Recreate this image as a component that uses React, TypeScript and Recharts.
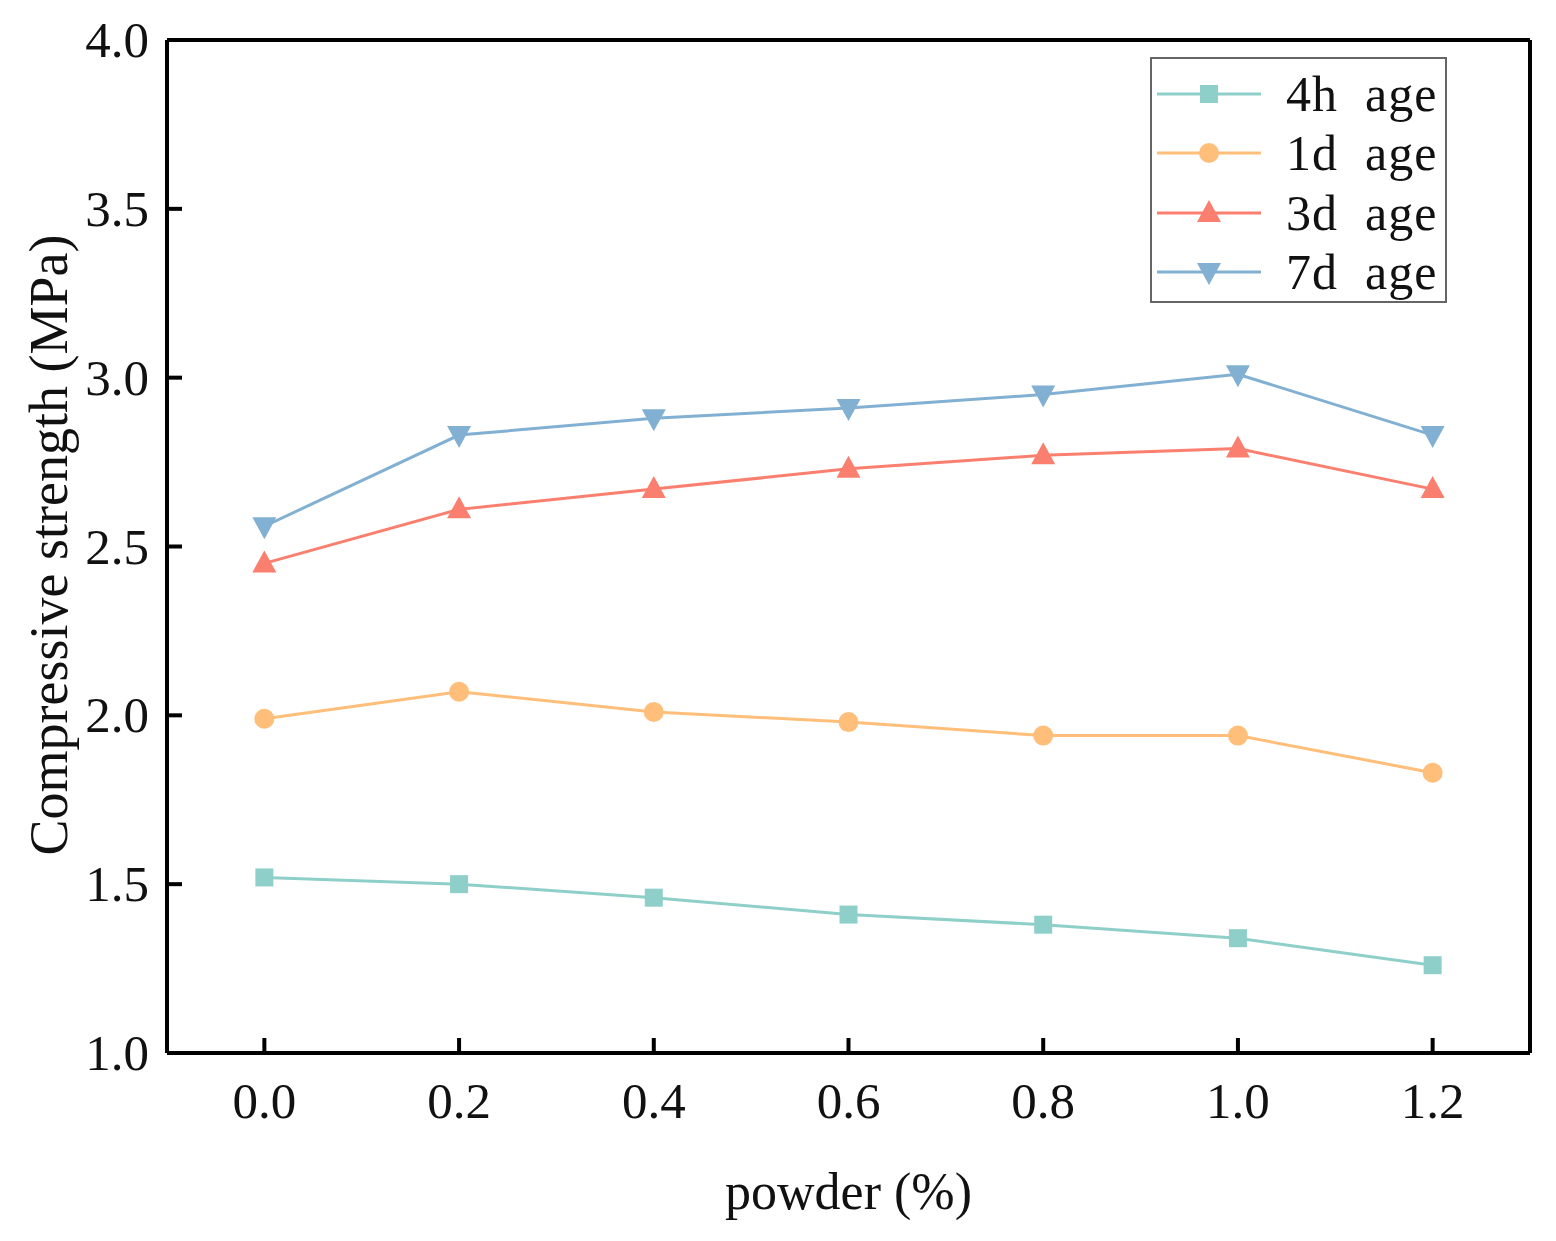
import { LineChart, Line, XAxis, YAxis, ReferenceLine } from "recharts";

const powder = [0.0, 0.2, 0.4, 0.6, 0.8, 1.0, 1.2];
const age4h = [1.52, 1.5, 1.46, 1.41, 1.38, 1.34, 1.26];
const age1d = [1.99, 2.07, 2.01, 1.98, 1.94, 1.94, 1.83];
const age3d = [2.45, 2.61, 2.67, 2.73, 2.77, 2.79, 2.67];
const age7d = [2.56, 2.83, 2.88, 2.91, 2.95, 3.01, 2.83];

const xTicks = [0.0, 0.2, 0.4, 0.6, 0.8, 1.0, 1.2];
const yTicks = [1.0, 1.5, 2.0, 2.5, 3.0, 3.5, 4.0];

const FONT = "'Liberation Serif', 'Times New Roman', serif";

const series = [
  { key: "h4", name: "4h\u00a0\u00a0age", color: "#8ECFC9", shape: "square" },
  { key: "d1", name: "1d\u00a0\u00a0age", color: "#FFBE7A", shape: "circle" },
  { key: "d3", name: "3d\u00a0\u00a0age", color: "#FA7F6F", shape: "up" },
  { key: "d7", name: "7d\u00a0\u00a0age", color: "#82B0D2", shape: "down" },
];

const data = powder.map((p, i) => ({
  powder: p,
  h4: age4h[i],
  d1: age1d[i],
  d3: age3d[i],
  d7: age7d[i],
}));

function Marker({ shape, cx, cy, color }: { shape: string; cx: number; cy: number; color: string }) {
  if (shape === "square") {
    return <rect x={cx - 9} y={cy - 9} width={18} height={18} fill={color} />;
  }
  if (shape === "circle") {
    return <circle cx={cx} cy={cy} r={10} fill={color} />;
  }
  if (shape === "up") {
    return <polygon points={`${cx},${cy - 13} ${cx - 12},${cy + 9} ${cx + 12},${cy + 9}`} fill={color} />;
  }
  return <polygon points={`${cx},${cy + 13} ${cx - 12},${cy - 9} ${cx + 12},${cy - 9}`} fill={color} />;
}

function makeDot(shape: string, color: string) {
  return (props: any) => {
    const { cx, cy, index } = props;
    if (cx == null || cy == null) return <g key={`${shape}-${index}`} />;
    return (
      <g key={`${shape}-${index}`}>
        <Marker shape={shape} cx={cx} cy={cy} color={color} />
      </g>
    );
  };
}

// inward ticks: tickSize/tickMargin are 0 so x,y sit on the axis line
function XTick(props: any) {
  const { x, y, payload } = props;
  return (
    <g>
      <line x1={x} y1={y} x2={x} y2={y - 15} stroke="#000" strokeWidth={4} />
      <text x={x} y={y + 48} textAnchor="middle" dominantBaseline="central" fontFamily={FONT} fontSize={51} fill="#111">
        {Number(payload.value).toFixed(1)}
      </text>
    </g>
  );
}

function YTick(props: any) {
  const { x, y, payload } = props;
  return (
    <g>
      <line x1={x} y1={y} x2={x + 15} y2={y} stroke="#000" strokeWidth={4} />
      <text x={x - 18} y={y} textAnchor="end" dominantBaseline="central" fontFamily={FONT} fontSize={51} fill="#111">
        {Number(payload.value).toFixed(1)}
      </text>
    </g>
  );
}

function LegendBox() {
  return (
    <div
      style={{
        position: "absolute",
        left: 1142,
        top: 49,
        width: 297,
        height: 246,
        border: "2px solid #666",
        background: "#fff",
        boxSizing: "border-box",
        paddingTop: 5,
      }}
    >
      {series.map((s) => (
        <div key={s.key} style={{ display: "flex", alignItems: "center", height: 59.5 }}>
          <svg width={112} height={40} style={{ marginLeft: 3 }}>
            <line x1={2} y1={20} x2={106} y2={20} stroke={s.color} strokeWidth={3} />
            <Marker shape={s.shape} cx={54} cy={20} color={s.color} />
          </svg>
          <span
            style={{
              fontFamily: FONT,
              fontSize: 50,
              color: "#111",
              marginLeft: 19,
              whiteSpace: "pre",
              lineHeight: 1,
              letterSpacing: 1,
            }}
          >
            {s.name}
          </span>
        </div>
      ))}
    </div>
  );
}

function YLabel() {
  return (
    <text
      x={0}
      y={0}
      transform="translate(41, 537) rotate(-90)"
      textAnchor="middle"
      dominantBaseline="central"
      fontFamily={FONT}
      fontSize={54}
      fill="#111"
    >
      Compressive strength (MPa)
    </text>
  );
}

export default function App() {
  return (
    <div style={{ position: "relative", width: 1540, height: 1225 }}>
      <LineChart
        width={1540}
        height={1225}
        data={data}
        margin={{ top: 32, right: 18, left: 0, bottom: 0 }}
      >
        <XAxis
          dataKey="powder"
          type="number"
          domain={[-0.1, 1.3]}
          ticks={xTicks}
          tick={<XTick />}
          tickSize={0}
          tickMargin={0}
          tickLine={false}
          axisLine={{ stroke: "#000", strokeWidth: 4 }}
          height={180}
          label={{
            value: "powder (%)",
            position: "insideBottom",
            offset: 24,
            style: { fontFamily: FONT, fontSize: 52, fill: "#111" },
          }}
        />
        <YAxis
          type="number"
          domain={[1, 4]}
          ticks={yTicks}
          tick={<YTick />}
          tickSize={0}
          tickMargin={0}
          tickLine={false}
          axisLine={{ stroke: "#000", strokeWidth: 4 }}
          width={159}
          label={<YLabel />}
        />
        <ReferenceLine y={4} stroke="#000" strokeWidth={4} ifOverflow="visible" />
        <ReferenceLine x={1.3} stroke="#000" strokeWidth={4} ifOverflow="visible" />
        {series.map((s) => (
          <Line
            key={s.key}
            dataKey={s.key}
            name={s.name}
            stroke={s.color}
            strokeWidth={3}
            dot={makeDot(s.shape, s.color)}
            activeDot={false}
            isAnimationActive={false}
          />
        ))}
      </LineChart>
      <LegendBox />
    </div>
  );
}
